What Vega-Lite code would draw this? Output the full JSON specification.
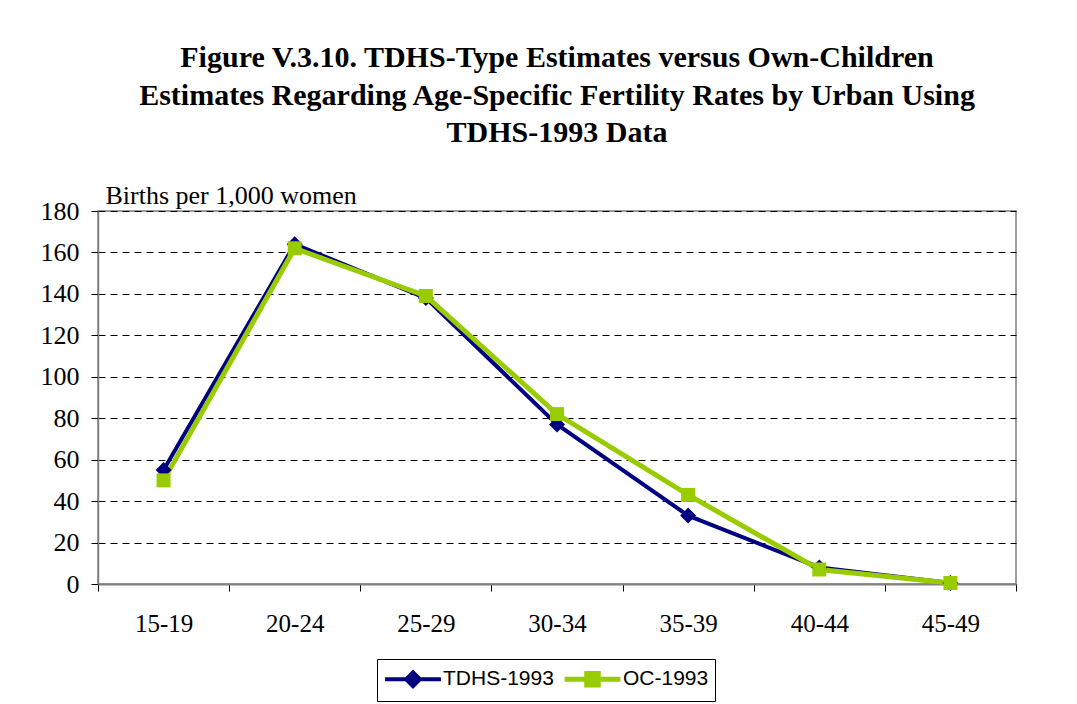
{
  "$schema": "https://vega.github.io/schema/vega-lite/v6.json",
  "width": 918,
  "height": 373,
  "autosize": {"type": "none"},
  "padding": {"left": 98, "top": 211, "right": 61, "bottom": 120},
  "background": "white",
  "title": {
    "text": ["Figure V.3.10. TDHS-Type Estimates versus Own-Children", "Estimates Regarding Age-Specific Fertility Rates by Urban Using", "TDHS-1993 Data"],
    "font": "Liberation Serif",
    "fontWeight": "bold",
    "fontSize": 30,
    "lineHeight": 37.5,
    "color": "black",
    "anchor": "middle",
    "frame": "group",
    "offset": 34
  },
  "data": {
    "values": [
      {"age": "15-19", "series": "TDHS-1993", "rate": 55},
      {"age": "20-24", "series": "TDHS-1993", "rate": 164},
      {"age": "25-29", "series": "TDHS-1993", "rate": 138},
      {"age": "30-34", "series": "TDHS-1993", "rate": 77},
      {"age": "35-39", "series": "TDHS-1993", "rate": 33},
      {"age": "40-44", "series": "TDHS-1993", "rate": 8},
      {"age": "45-49", "series": "TDHS-1993", "rate": 0.5},
      {"age": "15-19", "series": "OC-1993", "rate": 50},
      {"age": "20-24", "series": "OC-1993", "rate": 162},
      {"age": "25-29", "series": "OC-1993", "rate": 139},
      {"age": "30-34", "series": "OC-1993", "rate": 82},
      {"age": "35-39", "series": "OC-1993", "rate": 43},
      {"age": "40-44", "series": "OC-1993", "rate": 7},
      {"age": "45-49", "series": "OC-1993", "rate": 0.5}
    ]
  },
  "encoding": {
    "x": {
      "field": "age",
      "type": "ordinal",
      "sort": ["15-19", "20-24", "25-29", "30-34", "35-39", "40-44", "45-49"],
      "scale": {"type": "band", "paddingInner": 0, "paddingOuter": 0},
      "axis": {
        "title": null,
        "labelAngle": 0,
        "labelFont": "Liberation Serif",
        "labelFontSize": 25,
        "labelColor": "black",
        "labelPadding": 20,
        "tickBand": "extent",
        "tickColor": "black",
        "tickSize": 7,
        "domainColor": "#808080",
        "domainWidth": 2,
        "grid": false
      }
    },
    "y": {
      "field": "rate",
      "type": "quantitative",
      "scale": {"domain": [0, 180], "nice": false},
      "axis": {
        "values": [0, 20, 40, 60, 80, 100, 120, 140, 160, 180],
        "title": "Births per 1,000 women",
        "titleFont": "Liberation Serif",
        "titleFontSize": 26,
        "titleFontWeight": "normal",
        "titleColor": "black",
        "titleAngle": 0,
        "titleAlign": "left",
        "titleBaseline": "alphabetic",
        "titleX": 7,
        "titleY": -8,
        "labelFont": "Liberation Serif",
        "labelFontSize": 26,
        "labelColor": "black",
        "labelPadding": 12,
        "tickColor": "black",
        "tickSize": 7,
        "domainColor": "#808080",
        "domainWidth": 1.5,
        "grid": true,
        "gridColor": "black",
        "gridDash": [7, 5],
        "gridWidth": 1
      }
    },
    "color": {
      "field": "series",
      "type": "nominal",
      "scale": {"domain": ["TDHS-1993", "OC-1993"], "range": ["#000080", "#99CC00"]},
      "legend": {
        "title": null,
        "orient": "none",
        "legendX": 279,
        "legendY": 448,
        "direction": "horizontal",
        "strokeColor": "black",
        "padding": 6,
        "labelFont": "Liberation Sans",
        "labelFontSize": 21,
        "labelColor": "black",
        "symbolSize": 529,
        "symbolOffset": 16.5,
        "symbolStrokeWidth": 3,
        "columnPadding": 0,
        "labelOffset": 16.5,
        "encode": {
          "symbols": {
            "update": {
              "shape": {"signal": "datum.value === 'TDHS-1993' ? 'M-2.43,0H2.43M-0.6,0L0,-0.6L0.6,0L0,0.6Z' : 'M-2.43,0H2.43M-0.5,-0.5H0.5V0.5H-0.5Z'"},
              "fill": {"scale": "color", "field": "value"},
              "stroke": {"scale": "color", "field": "value"},
              "strokeWidth": {"value": 3},
              "opacity": {"value": 1}
            }
          }
        }
      }
    }
  },
  "layer": [
    {
      "mark": {"type": "line"},
      "encoding": {
        "strokeWidth": {
          "field": "series",
          "type": "nominal",
          "scale": {"domain": ["TDHS-1993", "OC-1993"], "range": [4, 5]},
          "legend": null
        }
      }
    },
    {
      "transform": [{"filter": "datum.series === 'TDHS-1993'"}],
      "mark": {"type": "point", "filled": true, "opacity": 1, "shape": "diamond", "size": 256}
    },
    {
      "transform": [{"filter": "datum.series === 'OC-1993'"}],
      "mark": {"type": "point", "filled": true, "opacity": 1, "shape": "square", "size": 196}
    }
  ],
  "config": {
    "view": {"stroke": "#808080", "strokeWidth": 1.5}
  }
}
